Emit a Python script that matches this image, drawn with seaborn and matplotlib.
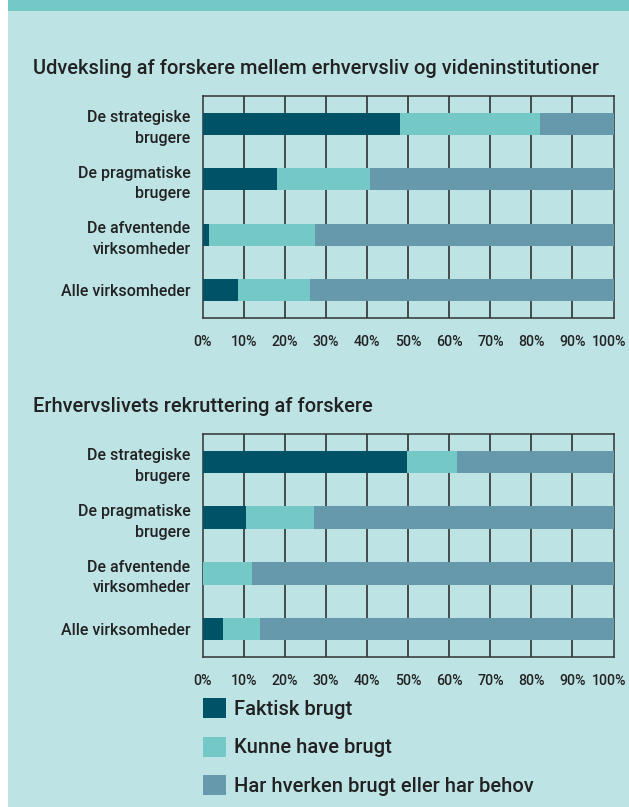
import matplotlib
matplotlib.use("Agg")
import matplotlib.pyplot as plt
import matplotlib.transforms as mtransforms
import seaborn as sns
import pandas as pd
import numpy as np
from matplotlib.patches import Rectangle, Patch

# ---- data ----
categories = ["De strategiske\nbrugere", "De pragmatiske\nbrugere",
              "De afventende\nvirksomheder", "Alle virksomheder"]
series_names = ["Faktisk brugt", "Kunne have brugt", "Har hverken brugt eller har behov"]

top_title = "Udveksling af forskere mellem erhvervsliv og videninstitutioner"
top_faktisk = [47.9, 18.1, 1.4, 8.5]
top_kunne = [34.2, 22.5, 25.8, 17.5]
top_har = [17.9, 59.4, 72.8, 74.0]

bot_title = "Erhvervslivets rekruttering af forskere"
bot_faktisk = [49.7, 10.4, 0.0, 4.8]
bot_kunne = [12.2, 16.6, 11.9, 9.0]
bot_har = [38.1, 73.0, 88.1, 86.2]

x_ticks = [0, 10, 20, 30, 40, 50, 60, 70, 80, 90, 100]
x_ticklabels = [f"{v}%" for v in x_ticks]

# ---- style ----
DARK = "#005266"
LIGHT = "#74C9C6"
GREY = "#6699AB"
BG = "#BDE3E5"
BAND = "#74C9C6"
TXT = "#222222"

sns.set_theme(style="white")
plt.rcParams["font.family"] = ["Roboto", "DejaVu Sans"]
plt.rcParams["font.weight"] = "medium"

W, H = 629, 807
fig = plt.figure(figsize=(W / 100, H / 100), dpi=100)
fig.patch.set_facecolor("white")
fig.add_artist(Rectangle((8 / W, 0), 1 - 8 / W, 1, transform=fig.transFigure,
                         facecolor=BG, edgecolor="none", zorder=-10))
fig.add_artist(Rectangle((8 / W, 1 - 11 / H), 1 - 8 / W, 11 / H, transform=fig.transFigure,
                         facecolor=BAND, edgecolor="none", zorder=-9))


def panel(rect, faktisk, kunne, har):
    ax = fig.add_axes(rect)
    ax.set_facecolor("none")
    df = pd.DataFrame({"cat": categories,
                       "f": faktisk, "k": kunne, "h": har})
    df["c2"] = df["f"] + df["k"]
    df["c3"] = df["c2"] + df["h"]
    for col, c in (("c3", GREY), ("c2", LIGHT), ("f", DARK)):
        sns.barplot(data=df, y="cat", x=col, orient="h", color=c, width=0.4,
                    saturation=1, ax=ax, zorder=3, linewidth=0, edgecolor="none")
    ax.set_xlim(0, 100)
    ax.set_ylim(3.5, -0.5)
    ax.set_xticks(x_ticks)
    ax.set_xticklabels(x_ticklabels, fontsize=10.2, color=TXT, fontweight="medium")
    ax.set_yticks(range(len(categories)))
    ax.set_yticklabels(categories, fontsize=11.5, color=TXT, linespacing=1.45,
                       fontweight="medium")
    ax.tick_params(axis="x", length=0, pad=12)
    ax.tick_params(axis="y", length=0, pad=9)
    # keep the last label ("100%") inside the canvas
    last = ax.xaxis.get_major_ticks()[-1].label1
    last.set_transform(last.get_transform() +
                       mtransforms.ScaledTranslation(-4 / 100, 0, fig.dpi_scale_trans))
    ax.set_xlabel("")
    ax.set_ylabel("")
    for v in x_ticks[1:-1]:
        ax.axvline(v, color="#222222", lw=1.1, zorder=1)
    for s in ax.spines.values():
        s.set_visible(True)
        s.set_color("#333333")
        s.set_linewidth(1.1)
    return ax


ax1 = panel([203 / W, 1 - 318 / H, 410.5 / W, 222 / H], top_faktisk, top_kunne, top_har)
ax2 = panel([203 / W, 1 - 657 / H, 410.5 / W, 223 / H], bot_faktisk, bot_kunne, bot_har)

fig.text(33 / W, 1 - 68 / H, top_title, fontsize=14.4, color=TXT, va="center", ha="left",
         fontweight="medium")
fig.text(33 / W, 1 - 407 / H, bot_title, fontsize=14.4, color=TXT, va="center", ha="left",
         fontweight="medium")

handles = [Patch(facecolor=c, edgecolor="none") for c in (DARK, LIGHT, GREY)]
fig.legend(handles, series_names, loc="upper left",
           bbox_to_anchor=(203 / W, 1 - 698 / H), frameon=False, borderpad=0,
           borderaxespad=0, prop={"size": 14.5, "weight": "medium"},
           handlelength=1.15, handleheight=1.15,
           labelspacing=0.88, handletextpad=0.4, labelcolor=TXT)

fig.savefig("out.png", dpi=100, facecolor=fig.get_facecolor())
